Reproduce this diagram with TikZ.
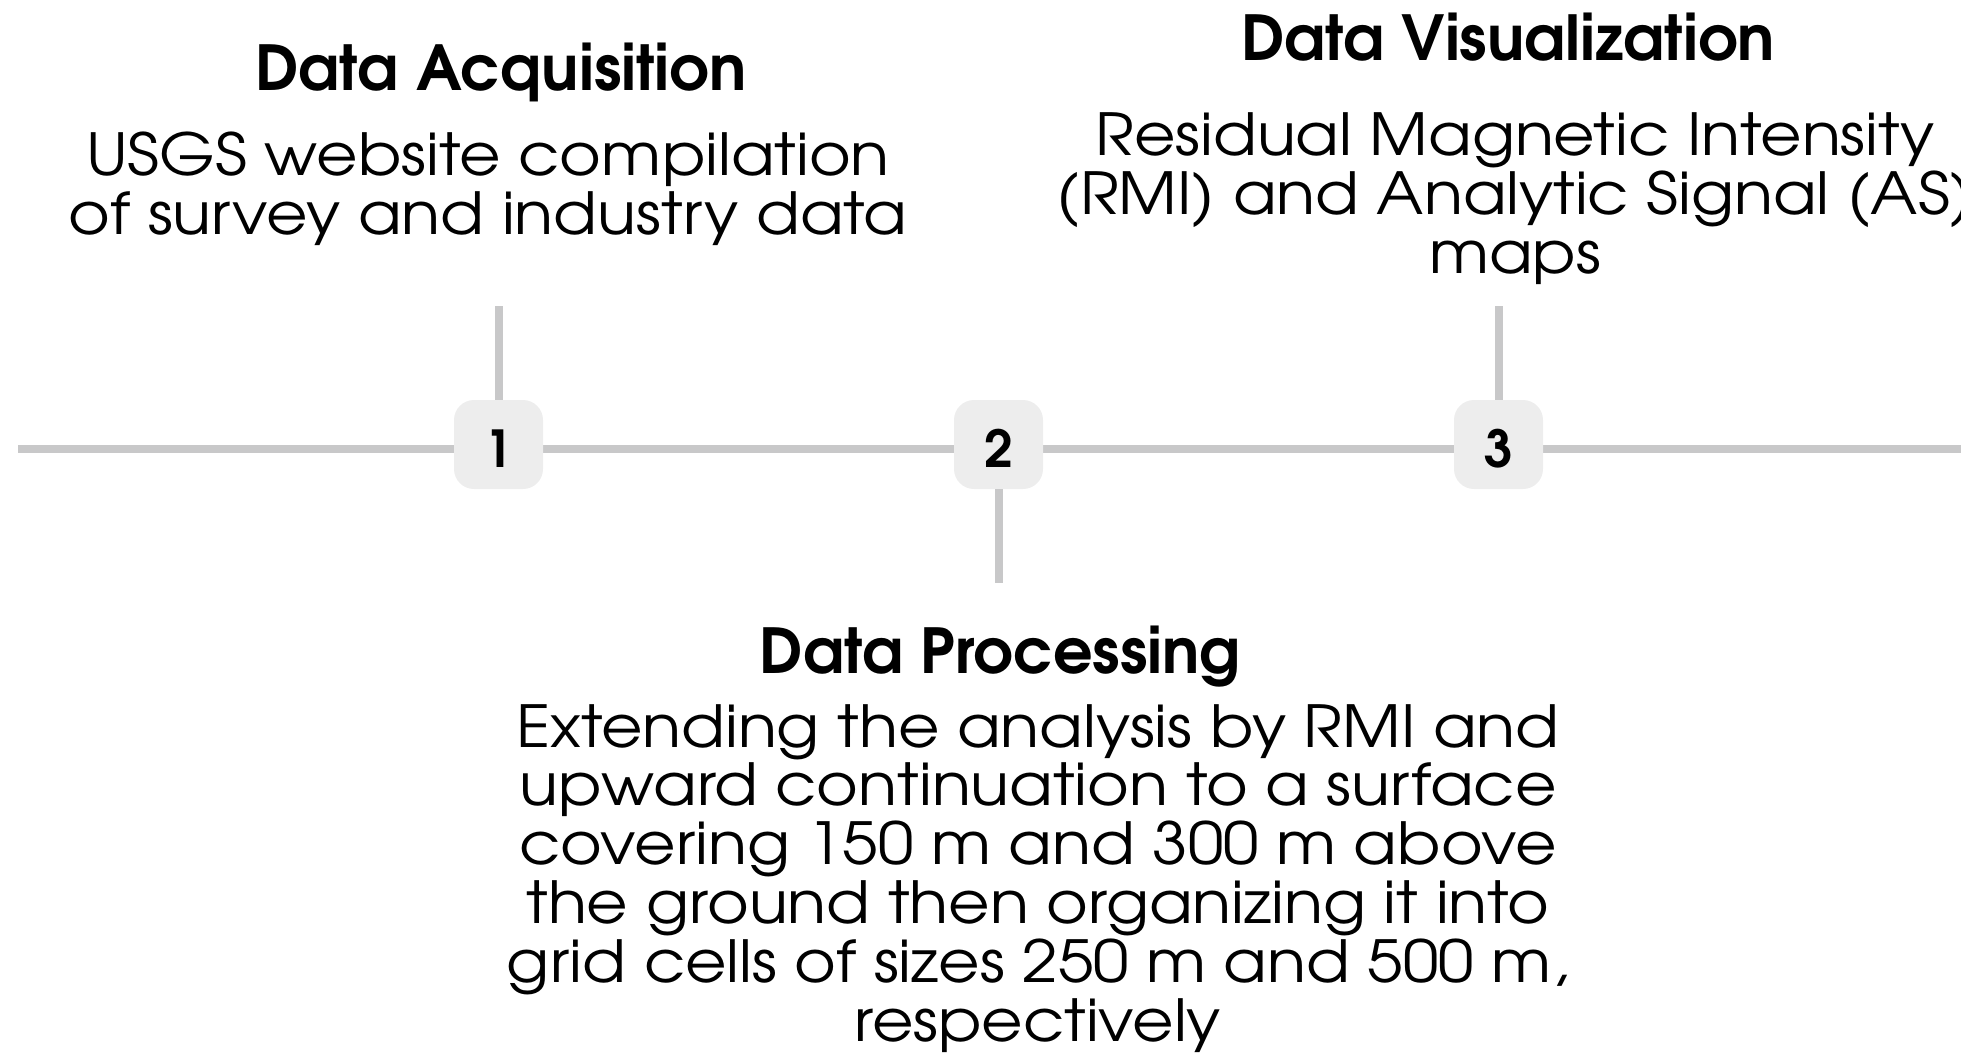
\documentclass[tikz,border=0pt]{standalone}
\usepackage{fontspec}
\setmainfont{TeX Gyre Adventor}
\newfontfamily\bodyfont{TeX Gyre Adventor}[FakeStretch=1.1]
\definecolor{railgray}{RGB}{200,200,201}
\definecolor{boxgray}{RGB}{237,237,237}

\begin{document}
\begin{tikzpicture}[x=0.5pt,y=-0.5pt,
    rail/.style={draw=railgray,line width=4pt},
    stepnum/.style={fill=boxgray,rounded corners=10pt,minimum size=44.5pt,inner sep=0pt,
      text height=23pt,text depth=0pt,font=\fontsize{25.5pt}{25.5pt}\selectfont\bfseries},
    steptitle/.style={anchor=base,font=\fontsize{31pt}{31pt}\selectfont\bfseries},
    stepbody/.style={anchor=base,align=center,font=\bodyfont\fontsize{29pt}{29.4pt}\selectfont}]
    \useasboundingbox (0,0) rectangle (1961,1055);

    % Draw timeline
    \coordinate (railstart) at (18,449);
    \coordinate (railend) at (1961,449);
    \draw[rail] (railstart) -- (railend);

    % Draw step boxes
    \node[stepnum] (n1) at (498.5,444.5) {1};
    \node[stepnum] (n2) at (998.5,444.5) {2};
    \node[stepnum] (n3) at (1498.5,444.5) {3};

    % Draw stems
    \coordinate (s1) at (498.5,306);
    \coordinate (s2) at (998.5,583);
    \coordinate (s3) at (1498.5,306);
    \draw[rail] (n1.north) -- (s1);
    \draw[rail] (n2.south) -- (s2);
    \draw[rail] (n3.north) -- (s3);

    % Draw labels (body nodes sit on their last line)
    \node[steptitle] (t1) at (501,90) {Data Acquisition};
    \node[stepbody] (b1) at (488,234) {USGS website compilation\\of survey and industry data};

    \node[steptitle] (t2) at (1000,673) {Data Processing};
    \node[stepbody] (b2) at (1038,1041) {Extending the analysis by RMI and\\upward continuation to a surface\\covering 150 m and 300 m above\\the ground then organizing it into\\grid cells of sizes 250 m and 500 m,\\respectively};

    \node[steptitle] (t3) at (1508,60) {Data Visualization};
    \node[stepbody] (b3) at (1515,273) {Residual Magnetic Intensity\\(RMI) and Analytic Signal (AS)\\maps};
\end{tikzpicture}
\end{document}
